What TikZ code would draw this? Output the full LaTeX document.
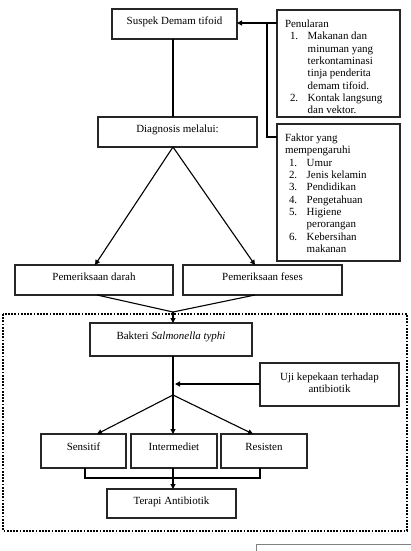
\documentclass[tikz,border=0pt]{standalone}
\usepackage{fontspec}
\setmainfont{Liberation Serif}
\usetikzlibrary{arrows.meta,calc}
\tikzset{
  box/.style={draw=black!85, line width=1.3bp, inner sep=0pt, outer sep=0pt},
  txt/.style={inner sep=0pt, outer sep=0pt, font=\fontsize{11}{12.4}\selectfont},
  conn/.style={draw=black, line width=1.1bp},
  arr/.style={conn, -{Triangle[length=5bp,width=5bp]}},
  frame/.style={draw=black, line width=2bp, dash pattern=on 1.8bp off 1.4bp},
}
\newcommand{\mkbox}[7]{%
  \pgfmathsetmacro\bw{#4-#2}\pgfmathsetmacro\bh{#5-#3}%
  \node[box, minimum width=\bw bp, minimum height=\bh bp] (#1) at ({(#2+#4)/2},{(#3+#5)/2}) {};
  \node[txt, anchor=base] (#1t) at ([yshift=-#6bp]#1.north) {#7};}
\newcommand{\mkside}[7]{%
  \pgfmathsetmacro\bw{#4-#2}\pgfmathsetmacro\bh{#5-#3}%
  \node[box, minimum width=\bw bp, minimum height=\bh bp] (#1) at ({(#2+#4)/2},{(#3+#5)/2}) {};
  \node[txt, anchor=base west] (#1t) at ([xshift=8bp,yshift=-#6bp]#1.north west) {#7};}
\begin{document}
\begin{tikzpicture}[x=1bp,y=-1bp]
\useasboundingbox (0,0) rectangle (410,551);
% dotted frame
\draw[frame] (3,314) rectangle (407,531);
% boxes
\mkbox{sus}{112}{9}{237}{39}{16}{Suspek Demam tifoid}
\mkbox{diag}{98}{117}{257}{147}{15.5}{Diagnosis melalui:}
\mkbox{dar}{15}{265}{173}{295}{15.5}{Pemeriksaan darah}
\mkbox{fes}{183}{265}{342}{295}{15.5}{Pemeriksaan feses}
\mkbox{bak}{90}{323}{252}{356}{16}{Bakteri \textit{Salmonella typhi}}
\mkbox{uji}{260}{363}{399}{406}{17}{\begin{tabular}[t]{@{}c@{}}Uji kepekaan terhadap\\antibiotik\end{tabular}}
\mkbox{sen}{41}{434}{126}{468}{16}{Sensitif}
\mkbox{int}{131}{434}{217}{468}{16}{Intermediet}
\mkbox{res}{221}{434}{307}{468}{16}{Resisten}
\mkbox{ter}{107}{489}{236}{518}{15.5}{Terapi Antibiotik}
\mkside{pen}{277}{10}{400}{117}{17.5}{\begin{tabular}[t]{@{\hspace{5bp}}r@{\hspace{9.5bp}}l@{}}
\multicolumn{2}{@{}l}{Penularan}\\
1. & Makanan dan\\
 & minuman yang\\
 & terkontaminasi\\
 & tinja penderita\\
 & demam tifoid.\\
2. & Kontak langsung\\
 & dan vektor.
\end{tabular}}
\mkside{fak}{277}{124}{400}{261}{17.5}{\begin{tabular}[t]{@{\hspace{4bp}}r@{\hspace{9.5bp}}l@{}}
\multicolumn{2}{@{}l}{Faktor yang}\\
\multicolumn{2}{@{}l}{mempengaruhi}\\
1. & Umur\\
2. & Jenis kelamin\\
3. & Pendidikan\\
4. & Pengetahuan\\
5. & Higiene\\
 & perorangan\\
6. & Kebersihan\\
 & makanan
\end{tabular}}
% side connectors
\coordinate (jn) at (267,23);
\coordinate (fj) at (267,137);
\draw[arr] (pen.west |- jn) -- (sus.east |- jn);
\draw[conn] (jn) -- (fj) -- (fj -| fak.west);
% spine
\coordinate (sp1) at (173,147);
\draw[conn] (sp1 |- sus.south) -- (sp1 |- diag.north);
\draw[arr] (sp1) -- ([xshift=1bp]dar.north);
\draw[arr] (sp1) -- ([xshift=-7.5bp]fes.north);
\coordinate (m1) at (173,312);
\draw[conn] ([xshift=3bp]dar.south) -- (m1);
\draw[conn] ([xshift=-7.5bp]fes.south) -- (m1);
\draw[arr] (m1) -- (m1 |- bak.north);
\coordinate (m2) at (173,395);
\draw[conn] (m1 |- bak.south) -- (m2);
\draw[arr] (uji.west |- 0,384) -- (175,384);
\draw[arr] (m2) -- ([xshift=13.5bp]sen.north);
\draw[arr] (m2) -- (m2 |- int.north);
\draw[arr] (m2) -- ([xshift=-11bp]res.north);
\coordinate (m3) at (173,478);
\draw[conn] ([xshift=1.5bp]sen.south) |- (m3) -| ([xshift=-4bp]res.south);
\draw[arr] (m3 |- int.south) -- (m3 |- ter.north);
% partial box at bottom
\draw[gray, line width=1bp] (256,552) -- (256,544) -- (411,544);
\end{tikzpicture}
\end{document}
